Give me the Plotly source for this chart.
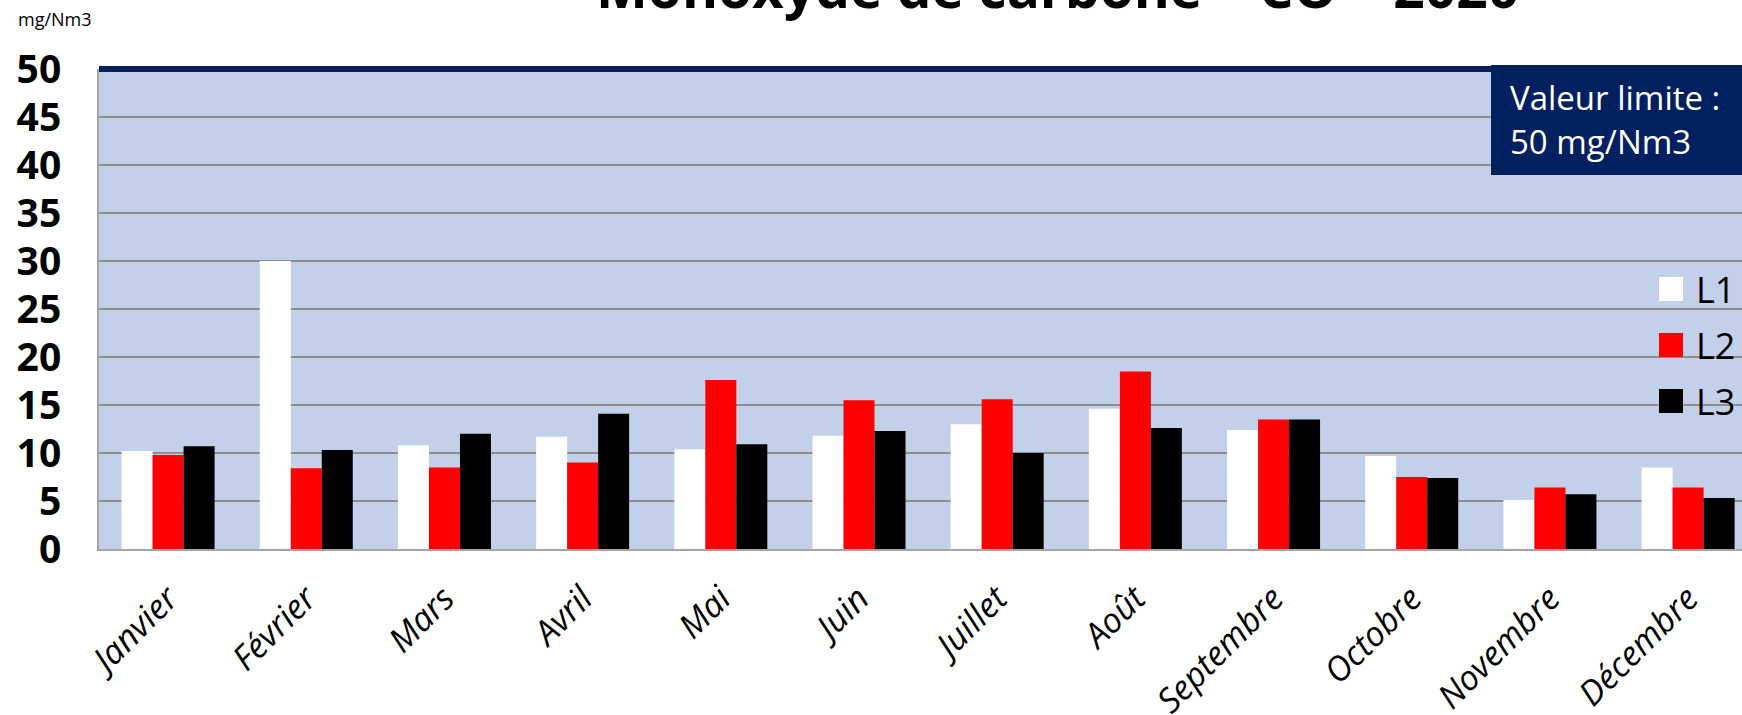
import plotly.graph_objects as go

# ---- data ----
months = ["Janvier", "Février", "Mars", "Avril", "Mai", "Juin", "Juillet",
          "Août", "Septembre", "Octobre", "Novembre", "Décembre"]
series_names = ["L1", "L2", "L3"]
l1 = [10.2, 30.0, 10.8, 11.7, 10.4, 11.8, 13.0, 14.6, 12.4, 9.7, 5.1, 8.5]
l2 = [9.8, 8.4, 8.5, 9.0, 17.6, 15.5, 15.6, 18.5, 13.5, 7.5, 6.4, 6.4]
l3 = [10.7, 10.3, 12.0, 14.1, 10.9, 12.3, 10.0, 12.6, 13.5, 7.4, 5.7, 5.3]
y_ticks = [0, 5, 10, 15, 20, 25, 30, 35, 40, 45, 50]
limit_value = 50
title_text = "Monoxyde de carbone – CO – 2020"
unit_text = "mg/Nm3"
limit_lines = ["Valeur limite :", "50 mg/Nm3"]

# ---- styling ----
colors = ["#FFFFFF", "#FF0000", "#000000"]
W, H = 1742, 715
ML, MR, MT, MB = 99, 0, 69, 166
PW, PH = W - ML - MR, H - MT - MB
FONT = "Open Sans"
NAVY = "#002060"


def px_x(p):
    return (p - ML) / PW


def px_y(p):
    return 1 - (p - MT) / PH


fig = go.Figure()
for name, vals, col in zip(series_names, [l1, l2, l3], colors):
    fig.add_trace(go.Bar(x=months, y=vals, name=name, marker_color=col,
                         marker_line_width=0, showlegend=False))

fig.update_layout(
    width=W, height=H,
    margin=dict(l=ML, r=MR, t=MT, b=MB, pad=0, autoexpand=False),
    paper_bgcolor="white",
    plot_bgcolor="#C3D0EA",
    barmode="group", bargap=0.327, bargroupgap=0,
    font=dict(family=FONT, color="black"),
    xaxis=dict(type="category", range=[-0.5, 11.39], tickangle=-45,
               tickfont=dict(family=FONT, size=34, style="italic"),
               showline=True, linecolor="#A6A6A6", linewidth=2,
               ticks="", ticklabelstandoff=14, showgrid=False, automargin=False),
    yaxis=dict(range=[0, 50], tickvals=y_ticks, showgrid=True,
               gridcolor="#8E8E8E", gridwidth=2,
               showline=True, linecolor="#A6A6A6", linewidth=2,
               tickfont=dict(family=FONT, size=39, weight="bold"),
               ticks="", ticklabelstandoff=28, zeroline=False, automargin=False),
)

# top limit line
fig.add_shape(type="line", xref="paper", x0=0, x1=1, yref="paper",
              y0=px_y(69), y1=px_y(69), line=dict(color=NAVY, width=6))

# limit box
fig.add_shape(type="rect", xref="paper", yref="paper",
              x0=px_x(1491), x1=1.01, y0=px_y(175), y1=px_y(65),
              fillcolor=NAVY, line=dict(width=0), layer="above")
for txt, cy in zip(limit_lines, [97.5, 141]):
    fig.add_annotation(text=txt, xref="paper", yref="paper", x=px_x(1508),
                       y=px_y(cy), xanchor="left", yanchor="middle",
                       showarrow=False, font=dict(family=FONT, size=33, color="white"))

# legend (manual, large squares)
for i, (name, col) in enumerate(zip(series_names, colors)):
    cy = 289 + 56 * i
    fig.add_shape(type="rect", xref="paper", yref="paper",
                  x0=px_x(1659), x1=px_x(1683), y0=px_y(cy + 12), y1=px_y(cy - 12),
                  fillcolor=col, line=dict(width=0), layer="above")
    fig.add_annotation(text=name, xref="paper", yref="paper", x=px_x(1694),
                       y=px_y(cy), xanchor="left", yanchor="middle", showarrow=False,
                       font=dict(family=FONT, size=36, color="black"))

# unit label
fig.add_annotation(text=unit_text, xref="paper", yref="paper", x=px_x(16),
                   y=px_y(19), xanchor="left", yanchor="middle", showarrow=False,
                   font=dict(family=FONT, size=18, color="black"))

# title (partly cut at the top)
fig.add_annotation(text="<b>" + title_text + "</b>", xref="paper", yref="paper",
                   x=px_x(1057), y=px_y(-13), xanchor="center", yanchor="middle",
                   showarrow=False, font=dict(family=FONT, size=55, color="black"))

fig.write_html("out.html", config={"displayModeBar": False},
               post_script="document.body.style.margin='0';")
